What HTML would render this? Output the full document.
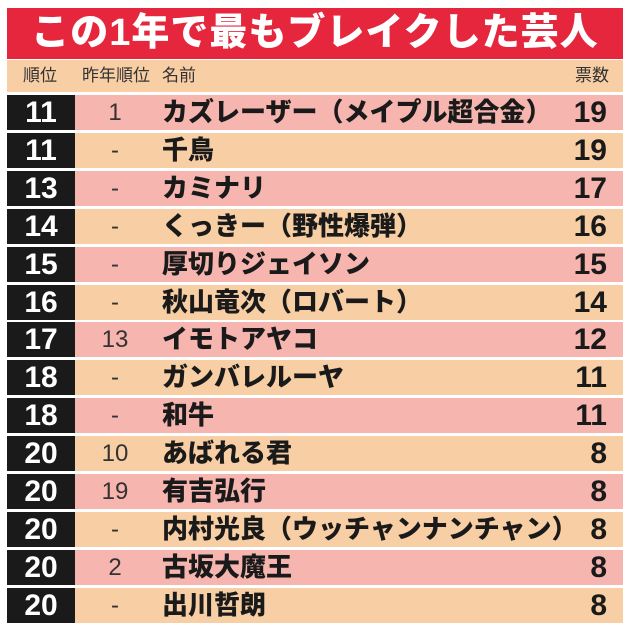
<!DOCTYPE html><html><head><meta charset="utf-8"><style>
body{margin:0;width:630px;height:632px;background:#fff;font-family:"Liberation Sans","Noto Sans CJK JP",sans-serif;position:relative;overflow:hidden}
.t{position:absolute;left:7px;top:8px;width:616px;height:51px;background:#e5263d;color:#fff;font-weight:900;font-size:38px;line-height:51px;text-align:center;letter-spacing:1px}
.h{position:absolute;left:7px;top:60px;width:616px;height:32px;background:#f8cea4;font-size:17px;line-height:32px;color:#333}
.h span{position:absolute}
.r{position:absolute;left:7px;width:616px;height:35px}
.r .k{position:absolute;left:0;top:0;width:68px;height:35px;background:#1a1a1a;color:#fff;font-weight:900;font-size:30px;line-height:35px;text-align:center}
.r .p{position:absolute;left:78px;width:60px;text-align:center;font-size:24px;line-height:35px;color:#333}
.r .n{position:absolute;left:155px;font-weight:900;font-size:26px;line-height:35px;color:#1a1a1a}
.r .v{position:absolute;right:16px;font-weight:900;font-size:30px;line-height:35px;color:#1a1a1a}
.a{background:#f7b5af}.b{background:#f8cea4}
</style></head><body>
<div class="t">この1年で最もブレイクした芸人</div>
<div class="h"><span style="left:16px">順位</span><span style="left:75px">昨年順位</span><span style="left:155px">名前</span><span style="right:14px">票数</span></div>
<div class="r a" style="top:95px"><div class="k">11</div><div class="p">1</div><div class="n">カズレーザー（メイプル超合金）</div><div class="v">19</div></div>
<div class="r b" style="top:133px"><div class="k">11</div><div class="p">-</div><div class="n">千鳥</div><div class="v">19</div></div>
<div class="r a" style="top:171px"><div class="k">13</div><div class="p">-</div><div class="n">カミナリ</div><div class="v">17</div></div>
<div class="r b" style="top:209px"><div class="k">14</div><div class="p">-</div><div class="n">くっきー（野性爆弾）</div><div class="v">16</div></div>
<div class="r a" style="top:247px"><div class="k">15</div><div class="p">-</div><div class="n">厚切りジェイソン</div><div class="v">15</div></div>
<div class="r b" style="top:285px"><div class="k">16</div><div class="p">-</div><div class="n">秋山竜次（ロバート）</div><div class="v">14</div></div>
<div class="r a" style="top:322px"><div class="k">17</div><div class="p">13</div><div class="n">イモトアヤコ</div><div class="v">12</div></div>
<div class="r b" style="top:360px"><div class="k">18</div><div class="p">-</div><div class="n">ガンバレルーヤ</div><div class="v">11</div></div>
<div class="r a" style="top:398px"><div class="k">18</div><div class="p">-</div><div class="n">和牛</div><div class="v">11</div></div>
<div class="r b" style="top:436px"><div class="k">20</div><div class="p">10</div><div class="n">あばれる君</div><div class="v">8</div></div>
<div class="r a" style="top:474px"><div class="k">20</div><div class="p">19</div><div class="n">有吉弘行</div><div class="v">8</div></div>
<div class="r b" style="top:512px"><div class="k">20</div><div class="p">-</div><div class="n">内村光良（ウッチャンナンチャン）</div><div class="v">8</div></div>
<div class="r a" style="top:550px"><div class="k">20</div><div class="p">2</div><div class="n">古坂大魔王</div><div class="v">8</div></div>
<div class="r b" style="top:588px"><div class="k">20</div><div class="p">-</div><div class="n">出川哲朗</div><div class="v">8</div></div>
</body></html>
